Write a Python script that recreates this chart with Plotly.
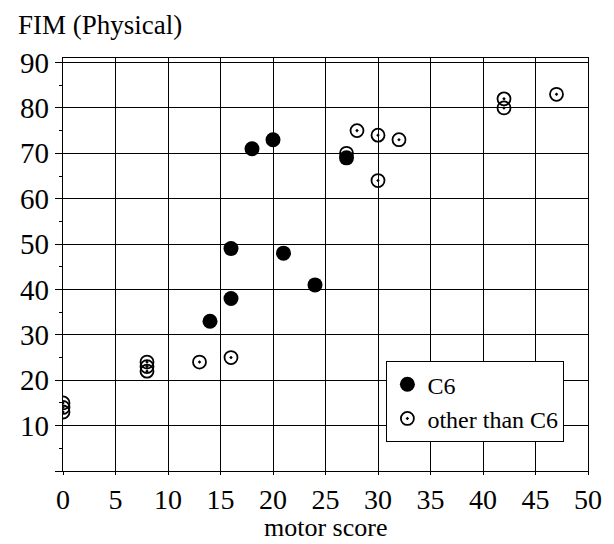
import plotly.graph_objects as go

# C6 group (filled)
c6_x = [14, 16, 16, 18, 20, 21, 24, 27]
c6_y = [33, 38, 49, 71, 73, 48, 41, 69]

# other than C6 (open)
oth_x = [0, 0, 0, 8, 8, 8, 13, 16, 27, 28, 30, 30, 32, 42, 42, 47]
oth_y = [13, 14, 15, 22, 23, 24, 24, 25, 70, 75, 74, 64, 73, 80, 82, 83]

x_ticks = [0, 5, 10, 15, 20, 25, 30, 35, 40, 45, 50]
y_ticks = [0, 10, 20, 30, 40, 50, 60, 70, 80, 90]
y_labels = ["", "10", "20", "30", "40", "50", "60", "70", "80", "90"]

FONT = "Liberation Serif"

fig = go.Figure()
fig.add_trace(go.Scatter(
    x=oth_x, y=oth_y, mode="markers", name="other than C6",
    marker=dict(symbol="circle-open-dot", size=13, color="black",
                line=dict(width=1.8, color="black")),
))
fig.add_trace(go.Scatter(
    x=c6_x, y=c6_y, mode="markers", name="C6",
    marker=dict(symbol="circle", size=15, color="black"),
))

# the page body has an 8px default margin, so the figure is 8px smaller
fig.update_layout(
    width=606, height=536,
    margin=dict(l=52, r=17, t=50, b=73),
    paper_bgcolor="white", plot_bgcolor="white",
    font=dict(family=FONT, color="black"),
    showlegend=True,
    legend=dict(
        x=0.616, y=0.266, xanchor="left", yanchor="top",
        bordercolor="black", borderwidth=1, bgcolor="white",
        font=dict(family=FONT, size=24, color="black"),
        traceorder="reversed",
        tracegroupgap=0,
    ),
    xaxis=dict(
        range=[0, 50], tickvals=x_ticks, ticktext=[str(v) for v in x_ticks],
        showgrid=True, gridcolor="black", gridwidth=1,
        showline=True, linecolor="black", linewidth=1.3, mirror=True,
        ticks="outside", ticklen=3, tickcolor="black",
        tickfont=dict(family=FONT, size=28, color="black"),
        zeroline=False,
    ),
    yaxis=dict(
        range=[0, 91], tickvals=y_ticks, ticktext=y_labels,
        showgrid=True, gridcolor="black", gridwidth=1,
        showline=True, linecolor="black", linewidth=1.3, mirror=True,
        ticks="outside", ticklen=7, tickcolor="black",
        tickfont=dict(family=FONT, size=29, color="black"),
        minor=dict(dtick=5, tick0=5, ticks="outside", ticklen=3, tickcolor="black", showgrid=False),
        zeroline=False,
    ),
    annotations=[
        dict(text="FIM (Physical)", xref="paper", yref="paper",
             x=-0.0894, y=1.079, xanchor="left", yanchor="middle",
             showarrow=False, font=dict(family=FONT, size=27, color="black")),
        dict(text="motor score", xref="paper", yref="paper",
             x=0.5, y=-0.1356, xanchor="center", yanchor="middle",
             showarrow=False, font=dict(family=FONT, size=26, color="black")),
    ],
)

fig.write_html("out.html")
